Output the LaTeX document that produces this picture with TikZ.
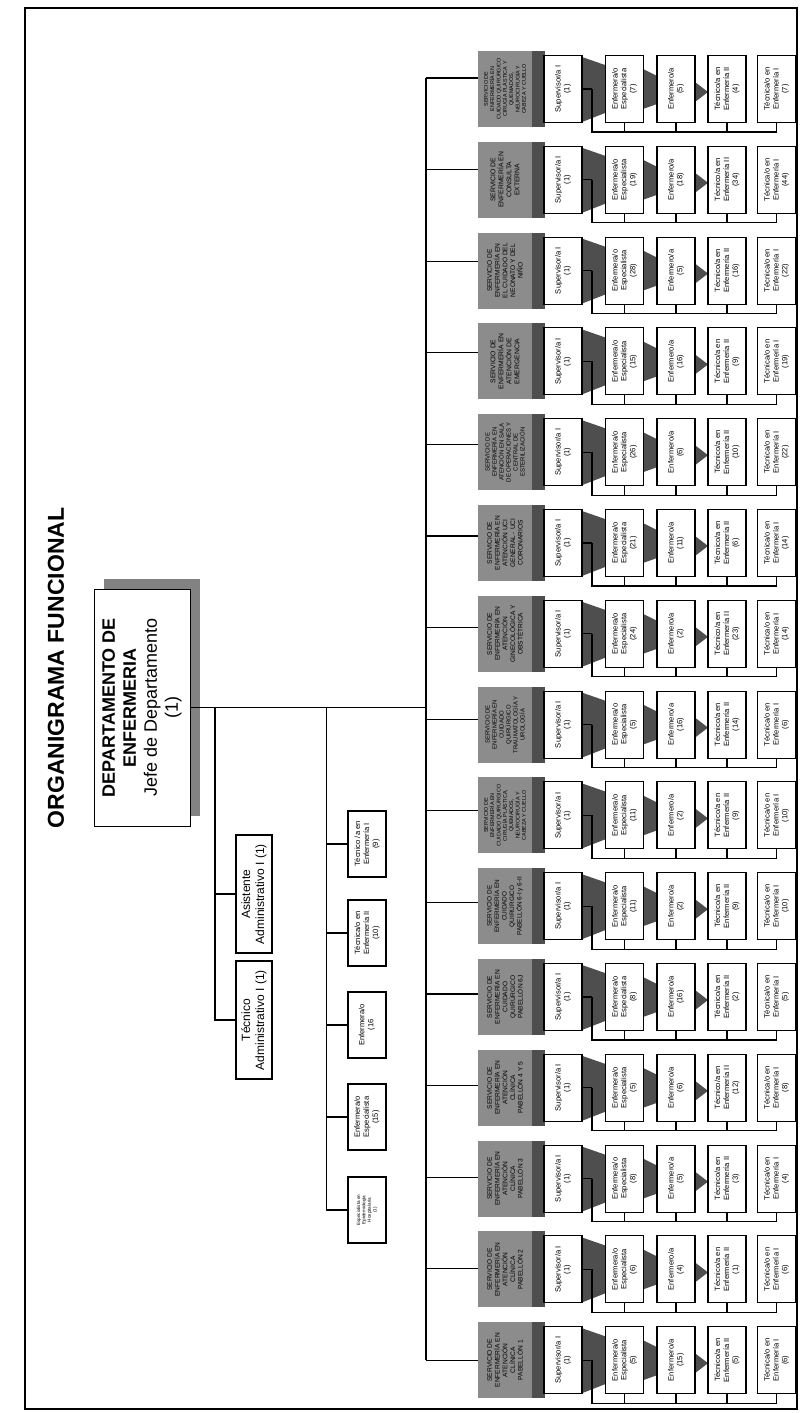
\documentclass[tikz,border=0pt]{standalone}
\usepackage{fontspec}
\setmainfont{Liberation Sans}
\usepackage{tikz}
\usetikzlibrary{calc}
\definecolor{hdrgray}{RGB}{140,140,140}
\definecolor{mydark}{RGB}{78,78,78}
\definecolor{myshadow}{RGB}{130,130,130}

\begin{document}
\begin{tikzpicture}[x=1pt,y=-1pt,
  conn/.style={line width=1.1pt},
  unitbox/.style={draw,line width=1.1pt,fill=white,rotate=90,inner sep=0pt,align=center,
    minimum width=67pt,minimum height=38pt,font=\fontsize{7.6}{8.8}\selectfont},
  hdrbox/.style={fill=hdrgray,rotate=90,inner sep=0pt,align=center,
    minimum width=76pt,minimum height=54pt},
  staffbox/.style={unitbox,minimum width=66pt,font=\fontsize{7.6}{9}\selectfont},
  admbox/.style={draw,line width=1.1pt,fill=white,rotate=90,inner sep=0pt,align=center,
    minimum width=118pt,minimum height=36pt,font=\fontsize{12}{14}\selectfont}]
\useasboundingbox (0,0) rectangle (803,1413);

% frame
\draw[line width=2.4pt] (25,8) rectangle (797,1409);

% title
\node[rotate=90,font=\fontsize{23}{27}\selectfont\bfseries] (ttl) at (56,668) {ORGANIGRAMA FUNCIONAL};

% department
\fill[myshadow] (104,579) rectangle (200,816);
\node[draw,line width=1pt,fill=white,rotate=90,inner sep=0pt,align=center,
  minimum width=237pt,minimum height=96pt,font=\fontsize{18}{21}\selectfont] (dep) at (142,707.5)
  {\textbf{DEPARTAMENTO DE}\\\textbf{ENFERMERIA}\\Jefe de Departamento\\(1)};

% spine
\coordinate (sptop) at (426,78);
\coordinate (spbot) at (426,1360.4);
\coordinate (adm) at (215,707.5);
\coordinate (stf) at (326.5,707.5);
\draw[conn] (sptop) -- (spbot);
\draw[conn] (dep.south) -- (dep.south -| sptop);

% administrative staff
\node[admbox] (asis) at (254,894) {Asistente\\Administrativo I (1)};
\node[admbox] (tadm) at (254,1020) {Técnico\\Administrativo I (1)};
\draw[conn] (adm) |- (asis.north);
\draw[conn] (adm) |- (tadm.north);

% direct nursing staff
\node[staffbox] (st1) at (367,844) {Técnico /a en\\Enfermería I\\(9)};
\node[staffbox] (st2) at (367,933) {Técnica/o en\\Enfermería II\\(10)};
\node[staffbox] (st3) at (367,1025) {Enfermera/o\\(16};
\node[staffbox] (st4) at (367,1117) {Enfermera/o\\Especialista\\(15)};
\node[staffbox,font=\fontsize{4.6}{5.4}\selectfont] (st5) at (367,1210)
  {Especialista en\\Epidemiología\\Hospitalaria\\(1)};
\foreach \n in {st1,st2,st3,st4,st5}
  \draw[conn] (stf) |- (\n.north);

% services
\foreach \i/\hd/\hsz/\ne/\nn/\nb/\na in {
  1/{SERVICIO DE\\ENFERMERÍA EN\\CUIDADO QUIRÚRGICO\\CIRUGÍA PLÁSTICA Y\\QUEMADOS,\\NEUROCIRUGÍA Y\\CABEZA Y CUELLO}/5.4/7/5/4/7,
  2/{SERVICIO DE\\ENFERMERÍA EN\\CONSULTA\\EXTERNA}/6.8/19/18/34/44,
  3/{SERVICIO DE\\ENFERMERÍA EN\\EL CUIDADO DEL\\NEONATO Y DEL\\NIÑO}/6.6/28/5/16/22,
  4/{SERVICIO DE\\ENFERMERÍA EN\\ATENCIÓN DE\\EMERGENCIA}/6.8/15/16/9/19,
  5/{SERVICIO DE\\ENFERMERÍA EN\\ATENCIÓN EN SALA\\DE OPERACIONES Y\\CENTRAL DE\\ESTERILIZACIÓN}/6/26/6/10/22,
  6/{SERVICIO DE\\ENFERMERÍA EN\\ATENCIÓN UCI\\GENERAL - UCI\\CORONARIOS}/6.6/21/11/6/14,
  7/{SERVICIO DE\\ENFERMERÍA EN\\ATENCIÓN\\GINECOLÓGICA Y\\OBSTÉTRICA}/6.6/24/2/23/14,
  8/{SERVICIO DE\\ENFERMERÍA EN\\CUIDADO\\QUIRÚRGICO\\TRAUMATOLOGÍA Y\\UROLOGÍA}/6/5/16/14/6,
  9/{SERVICIO DE\\ENFERMERÍA EN\\CUIDADO QUIRÚRGICO\\CIRUGÍA PLÁSTICA,\\QUEMADOS,\\NEUROCIRUGÍA Y\\CABEZA Y CUELLO}/5.4/11/2/9/10,
  10/{SERVICIO DE\\ENFERMERÍA EN\\CUIDADO\\QUIRÚRGICO\\PABELLÓN 6-I y 6-II}/6.4/11/2/9/10,
  11/{SERVICIO DE\\ENFERMERÍA EN\\CUIDADO\\QUIRÚRGICO\\PABELLÓN 6J}/6.6/8/16/2/5,
  12/{SERVICIO DE\\ENFERMERÍA EN\\ATENCIÓN\\CLÍNICA\\PABELLÓN 4 Y 5}/6.6/5/6/12/8,
  13/{SERVICIO DE\\ENFERMERÍA EN\\ATENCIÓN\\CLÍNICA\\PABELLÓN 3}/6.6/8/5/3/4,
  14/{SERVICIO DE\\ENFERMERÍA EN\\ATENCIÓN\\CLÍNICA\\PABELLÓN 2}/6.6/6/4/1/6,
  15/{SERVICIO DE\\ENFERMERÍA EN\\ATENCIÓN\\CLÍNICA\\PABELLÓN 1}/6.6/5/15/5/6}{
  \pgfmathsetmacro\cy{89+(\i-1)*90.8}
  \pgfmathsetmacro\yb{78+(\i-1)*91.6}
  \pgfmathsetmacro\hld{\hsz*1.17}
  \coordinate (br\i) at (426,\yb);
  \coordinate (kn\i) at (592,\cy);
  % 3d funnel
  \fill[mydark] (531,\cy-38) rectangle (545,\cy+38);
  \fill[mydark] (582,\cy-32) -- (582,\cy+33) -- (605,\cy+24) -- (605,\cy-24) -- cycle;
  \fill[mydark] (643,\cy-20) -- (643,\cy+20) -- (657,\cy+15) -- (657,\cy-13) -- cycle;
  \fill[mydark] (695,\cy-7) -- (695,\cy+13) -- (708,\cy+3) -- cycle;
  \node[hdrbox,font=\fontsize{\hsz}{\hld}\selectfont] (hdr\i) at (505,\cy) {\hd};
  \node[unitbox] (sup\i) at (563,\cy) {Supervisor/a I\\(1)};
  \node[unitbox] (esp\i) at (624.5,\cy) {Enfermera/o\\Especialista\\(\ne)};
  \node[unitbox] (enf\i) at (676,\cy) {Enfermero/a\\(\nn)};
  \node[unitbox] (tb\i) at (727,\cy) {Técnico/a en\\Enfermería II\\(\nb)};
  \node[unitbox] (ta\i) at (776.5,\cy) {Técnica/o en\\Enfermería I\\(\na)};
  \draw[conn] (br\i) -- (br\i -| hdr\i.north);
  \draw[conn] (sup\i.south) -- (kn\i);
  \foreach \n in {esp\i,enf\i,tb\i,ta\i}
    \draw[conn] (kn\i) -- ++(0,43) -| (\n.west);
}

\end{tikzpicture}
\end{document}
